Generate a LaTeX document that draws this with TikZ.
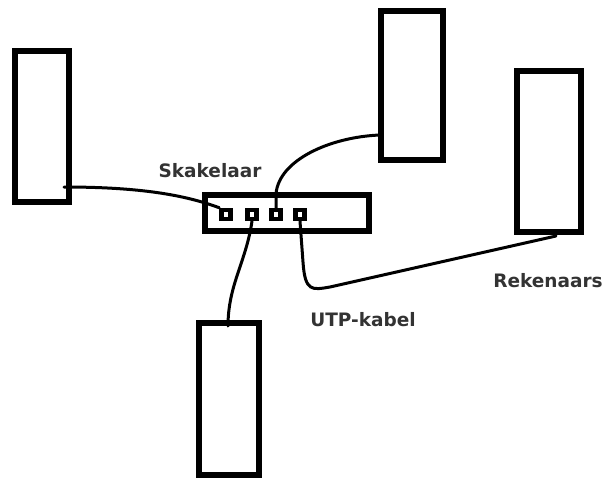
\documentclass[tikz,border=0pt]{standalone}
\usepackage{fontspec}
\setmainfont{DejaVu Sans}
\usepackage{xcolor}
\usepackage{tikz}
\usetikzlibrary{positioning}

\definecolor{labelgrey}{HTML}{333333}

\begin{document}
\begin{tikzpicture}[x=1pt, y=-1pt,
  pc/.style={rectangle, draw, line width=5.5pt, inner sep=0pt},
  port/.style={rectangle, draw, line width=4.5pt, minimum size=9pt, inner sep=0pt},
  cable/.style={line width=3pt, line cap=round},
  lbl/.style={text=labelgrey, font=\bfseries\fontsize{18.5}{20}\selectfont, inner sep=0pt}]
  \useasboundingbox (0,0) rectangle (606,480);

  % computers
  \node[pc, minimum width=54pt, minimum height=151pt] (pcA) at (42,126.5) {};
  \node[pc, minimum width=62pt, minimum height=149pt] (pcB) at (412,85.5) {};
  \node[pc, minimum width=64pt, minimum height=161pt] (pcC) at (549,151.5) {};
  \node[pc, minimum width=60pt, minimum height=152pt] (pcD) at (229,399) {};

  % switch with four ports
  \node[pc, minimum width=164pt, minimum height=36pt] (switch) at (287,213) {};
  \node[port] (p1) at (226,214.5) {};
  \node[port] (p2) at (252,214.5) {};
  \node[port] (p3) at (276,214.5) {};
  \node[port] (p4) at (300,214.5) {};

  \coordinate (endA) at (64,187);
  \coordinate (endB) at (380,135);
  \coordinate (endC) at (556,236);
  \coordinate (endD) at (228,326);

  % cables
  \draw[cable] (endA) .. controls (140,187) and (185,195) .. (p1.north west);
  \draw[cable] (p3.north) -- ++(0,-14) .. controls (279,160) and (330,137) .. (endB);
  \draw[cable] (p2.south) .. controls (246,262) and (228,285) .. (endD);
  \draw[cable] (p4.south) -- (303,262) .. controls (305,292) and (312,290) .. (330,287) -- (endC);

  % labels
  \node[lbl] (lblSwitch) at (210,171) {Skakelaar};
  \node[lbl] (lblPc) at (548,281) {Rekenaars};
  \node[lbl] (lblCable) at (363,320) {UTP-kabel};
\end{tikzpicture}
\end{document}
